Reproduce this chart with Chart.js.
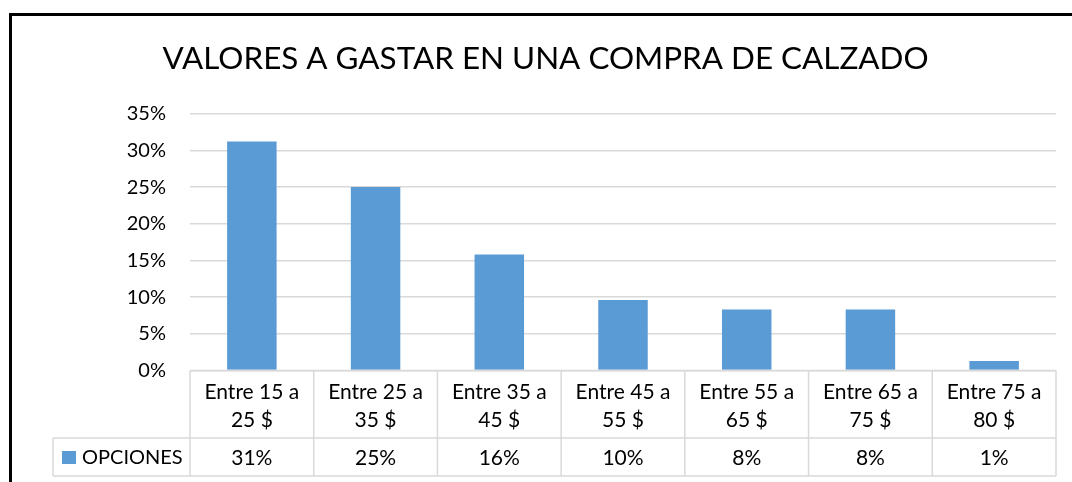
<!DOCTYPE html>
<html>
<head>
<meta charset="utf-8">
<script src="https://cdn.jsdelivr.net/npm/chart.js@4"></script>
<style>
  html, body { margin: 0; padding: 0; background: #fff; }
  #wrap { width: 1072px; height: 482px; position: relative; }
</style>
</head>
<body>
<div id="wrap"><canvas id="chart"></canvas></div>
<script>
const categories = [
    ['Entre 15 a', '25 $'],
    ['Entre 25 a', '35 $'],
    ['Entre 35 a', '45 $'],
    ['Entre 45 a', '55 $'],
    ['Entre 55 a', '65 $'],
    ['Entre 65 a', '75 $'],
    ['Entre 75 a', '80 $']
];
const opciones = [31.2, 25.0, 15.8, 9.6, 8.3, 8.3, 1.3];
const tableLabels = ['31%', '25%', '16%', '10%', '8%', '8%', '1%'];
const seriesName = 'OPCIONES';

const FONT = 'Lato, "Open Sans", sans-serif';
const BLUE = '#5b9bd5';
const GRID = '#d9d9d9';

// frame + data table under the plot, drawn from the x scale
const tablePlugin = {
    id: 'dataTable',
    afterDraw(chart) {
        const c = chart.ctx;
        const x = chart.scales.x;
        const area = chart.chartArea;
        const step = x.getPixelForValue(1) - x.getPixelForValue(0);
        const left = area.left, right = area.right;
        const top = area.bottom;
        const mid = top + 67.5, bottom = top + 105.5;
        const legendLeft = 53;

        c.save();
        c.strokeStyle = GRID;
        c.lineWidth = 1.5;
        c.beginPath();
        c.moveTo(left, top); c.lineTo(right, top);
        c.moveTo(legendLeft, mid); c.lineTo(right, mid);
        c.moveTo(legendLeft, bottom); c.lineTo(right, bottom);
        c.moveTo(legendLeft, mid); c.lineTo(legendLeft, bottom);
        for (let i = 0; i <= categories.length; i++) {
            const px = left + i * step;
            c.moveTo(px, top); c.lineTo(px, bottom);
        }
        c.stroke();

        c.fillStyle = '#000';
        c.textAlign = 'center';
        c.textBaseline = 'middle';
        c.font = '21px ' + FONT;
        categories.forEach((lines, i) => {
            const cx = x.getPixelForValue(i);
            c.fillText(lines[0], cx, top + 21.5);
            c.fillText(lines[1], cx, top + 49.5);
            c.fillText(tableLabels[i], cx, mid + 20);
        });

        c.fillStyle = BLUE;
        c.fillRect(62, mid + 13, 14, 13);
        c.fillStyle = '#000';
        c.textAlign = 'left';
        c.font = '20px ' + FONT;
        c.fillText(seriesName, 82, mid + 20);

        // outer frame (only top and left visible)
        c.strokeStyle = '#000';
        c.lineWidth = 3;
        c.beginPath();
        c.moveTo(10.5, 482); c.lineTo(10.5, 14.5); c.lineTo(1072, 14.5);
        c.stroke();
        c.restore();
    }
};

new Chart(document.getElementById('chart'), {
    type: 'bar',
    data: {
        labels: categories,
        datasets: [{
            label: seriesName,
            data: opciones,
            backgroundColor: BLUE,
            barPercentage: 0.4,
            categoryPercentage: 1.0
        }]
    },
    options: {
        responsive: true,
        maintainAspectRatio: false,
        animation: false,
        layout: { padding: { left: 35, right: 16, top: 0, bottom: 111.5 } },
        plugins: {
            legend: { display: false },
            tooltip: { enabled: false },
            title: {
                display: true,
                text: 'VALORES A GASTAR EN UNA COMPRA DE CALZADO',
                color: '#000',
                font: { family: FONT, size: 31.4, weight: 'normal' },
                padding: { top: 40, bottom: 36 }
            }
        },
        scales: {
            x: { display: false },
            y: {
                min: 0,
                max: 35,
                ticks: {
                    stepSize: 5,
                    padding: 24,
                    color: '#000',
                    font: { family: FONT, size: 20 },
                    callback: v => v + '%'
                },
                grid: { color: GRID, lineWidth: 1.5, drawTicks: false },
                border: { display: false },
                afterFit(scale) { scale.width = 155; }
            }
        }
    },
    plugins: [tablePlugin]
});
</script>
</body>
</html>
